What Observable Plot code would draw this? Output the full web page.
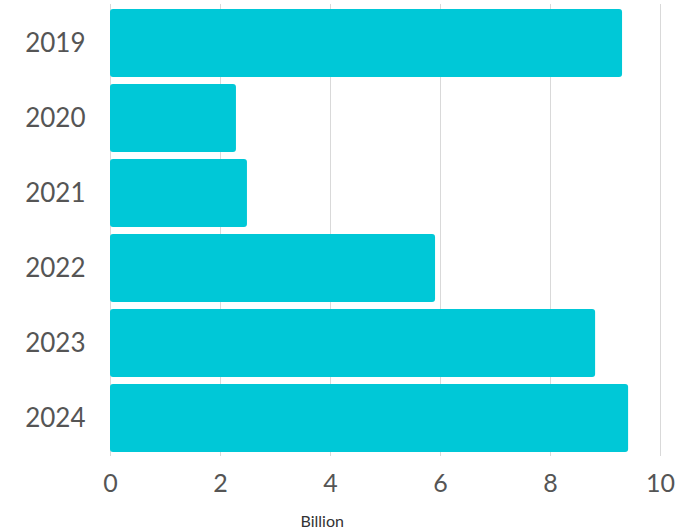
<!DOCTYPE html>
<html><head><meta charset="utf-8">
<script src="https://cdn.jsdelivr.net/npm/d3@7"></script>
<script src="https://cdn.jsdelivr.net/npm/@observablehq/plot@0.6"></script>
<style>body{margin:0;background:#fff;} svg{font-family:Lato,"Open Sans",sans-serif;}</style>
</head><body><div id="chart"></div>
<script>
const years = ["2019","2020","2021","2022","2023","2024"];
const values = [9.31, 2.29, 2.49, 5.91, 8.82, 9.42];
const xTicks = [0, 2, 4, 6, 8, 10];
const xLabel = "Billion";
const data = years.map((y, i) => ({year: y, value: values[i]}));

const chart = Plot.plot({
  width: 680,
  height: 531,
  marginLeft: 110,
  marginRight: 20,
  marginTop: 4,
  marginBottom: 75,
  style: {fontFamily: "Lato, 'Open Sans', sans-serif", color: "#555", background: "#fff"},
  x: {domain: [0, 10], ticks: xTicks, label: null},
  y: {domain: years, padding: 0.1, paddingOuter: 0.05, label: null},
  marks: [
    Plot.gridX(xTicks, {stroke: "#d9d9d9", strokeOpacity: 1, strokeWidth: 1}),
    Plot.barX(data, {y: "year", x: "value", fill: "#00C8D7", rx: 3}),
    Plot.axisX(xTicks, {tickSize: 0, tickPadding: 18, fontSize: 25, fill: "#555", label: null}),
    Plot.axisY({tickSize: 0, tickPadding: 25, fontSize: 26, fill: "#555", label: null}),
    Plot.text([xLabel], {frameAnchor: "bottom", dy: 70, fontSize: 16, fill: "#333", x: () => 3.85})
  ]
});
document.getElementById("chart").appendChild(chart);
</script>
</body></html>
